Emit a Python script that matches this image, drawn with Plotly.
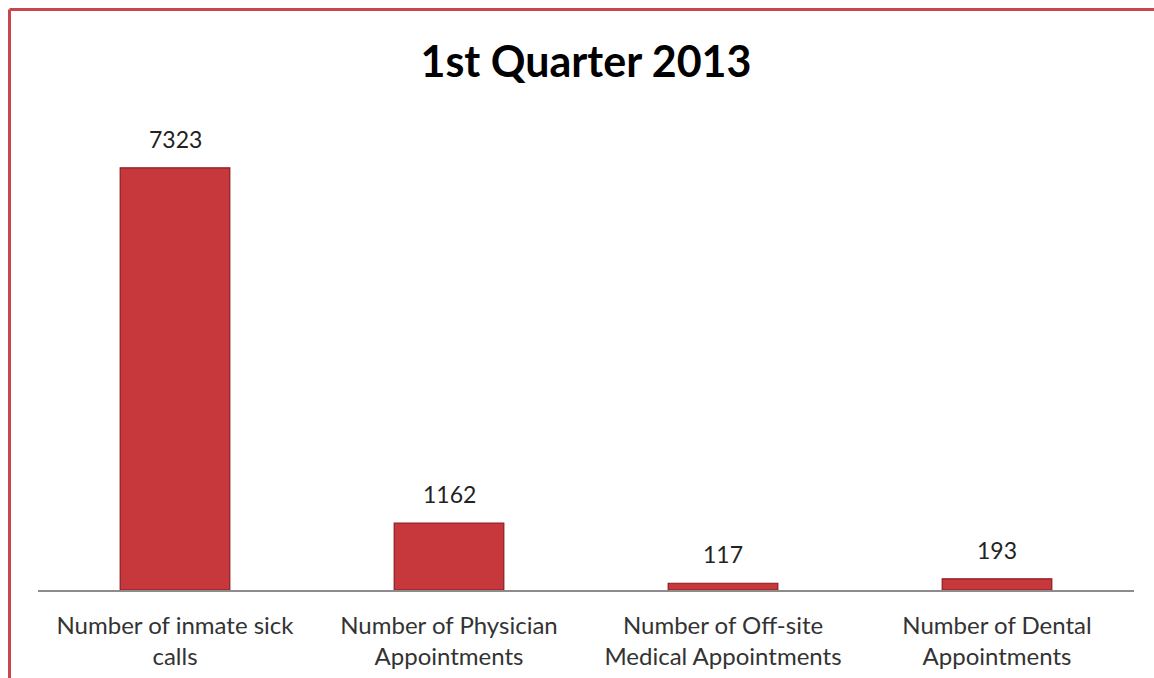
import plotly.graph_objects as go

# Quarterly counts of medical services
categories = [
    "Number of inmate sick<br>calls",
    "Number of Physician<br>Appointments",
    "Number of Off-site<br>Medical Appointments",
    "Number of Dental<br>Appointments",
]
counts = [7323, 1162, 117, 193]

W, H = 1154, 678
ML, MR, MT, MB = 38, 20, 100, 88
PW, PH = W - ML - MR, H - MT - MB


def px_x(p):
    return (p - ML) / PW


def px_y(p):
    return (H - MB - p) / PH


fig = go.Figure()
fig.add_trace(go.Bar(
    x=categories,
    y=counts,
    marker=dict(color="#c6383b", line=dict(color="#8a1c22", width=1.2)),
    width=0.4,
    hoverinfo="skip",
))

# value labels above each bar
for cat, v in zip(categories, counts):
    fig.add_annotation(
        x=cat, y=v, text=str(v), showarrow=False,
        yanchor="bottom", yshift=13,
        font=dict(family="Lato", size=23, color="#222222"),
    )

# red frame along the top and left edges
fig.add_shape(type="line", xref="paper", yref="paper",
              x0=px_x(9.5), x1=px_x(1154), y0=px_y(9.5), y1=px_y(9.5),
              line=dict(color="#c9474b", width=3))
fig.add_shape(type="line", xref="paper", yref="paper",
              x0=px_x(9.5), x1=px_x(9.5), y0=px_y(9.5), y1=px_y(678),
              line=dict(color="#c9474b", width=3))

fig.update_layout(
    width=W, height=H,
    margin=dict(l=ML, r=MR, t=MT, b=MB, autoexpand=False),
    paper_bgcolor="white",
    plot_bgcolor="white",
    showlegend=False,
    title=dict(
        text="<b>1st Quarter 2013</b>",
        x=0.5, xref="paper", y=1 - 62 / H, yref="container",
        xanchor="center", yanchor="middle",
        font=dict(family="Lato", size=43, color="#000000"),
    ),
    xaxis=dict(
        automargin=False,
        showline=True, linecolor="#8c8c8c", linewidth=1.5,
        showgrid=False, ticks="", ticklabelstandoff=13,
        tickfont=dict(family="Lato", size=24, color="#333333"),
    ),
    yaxis=dict(visible=False, range=[0, 8500], automargin=False),
)

fig.write_html("out.html")
